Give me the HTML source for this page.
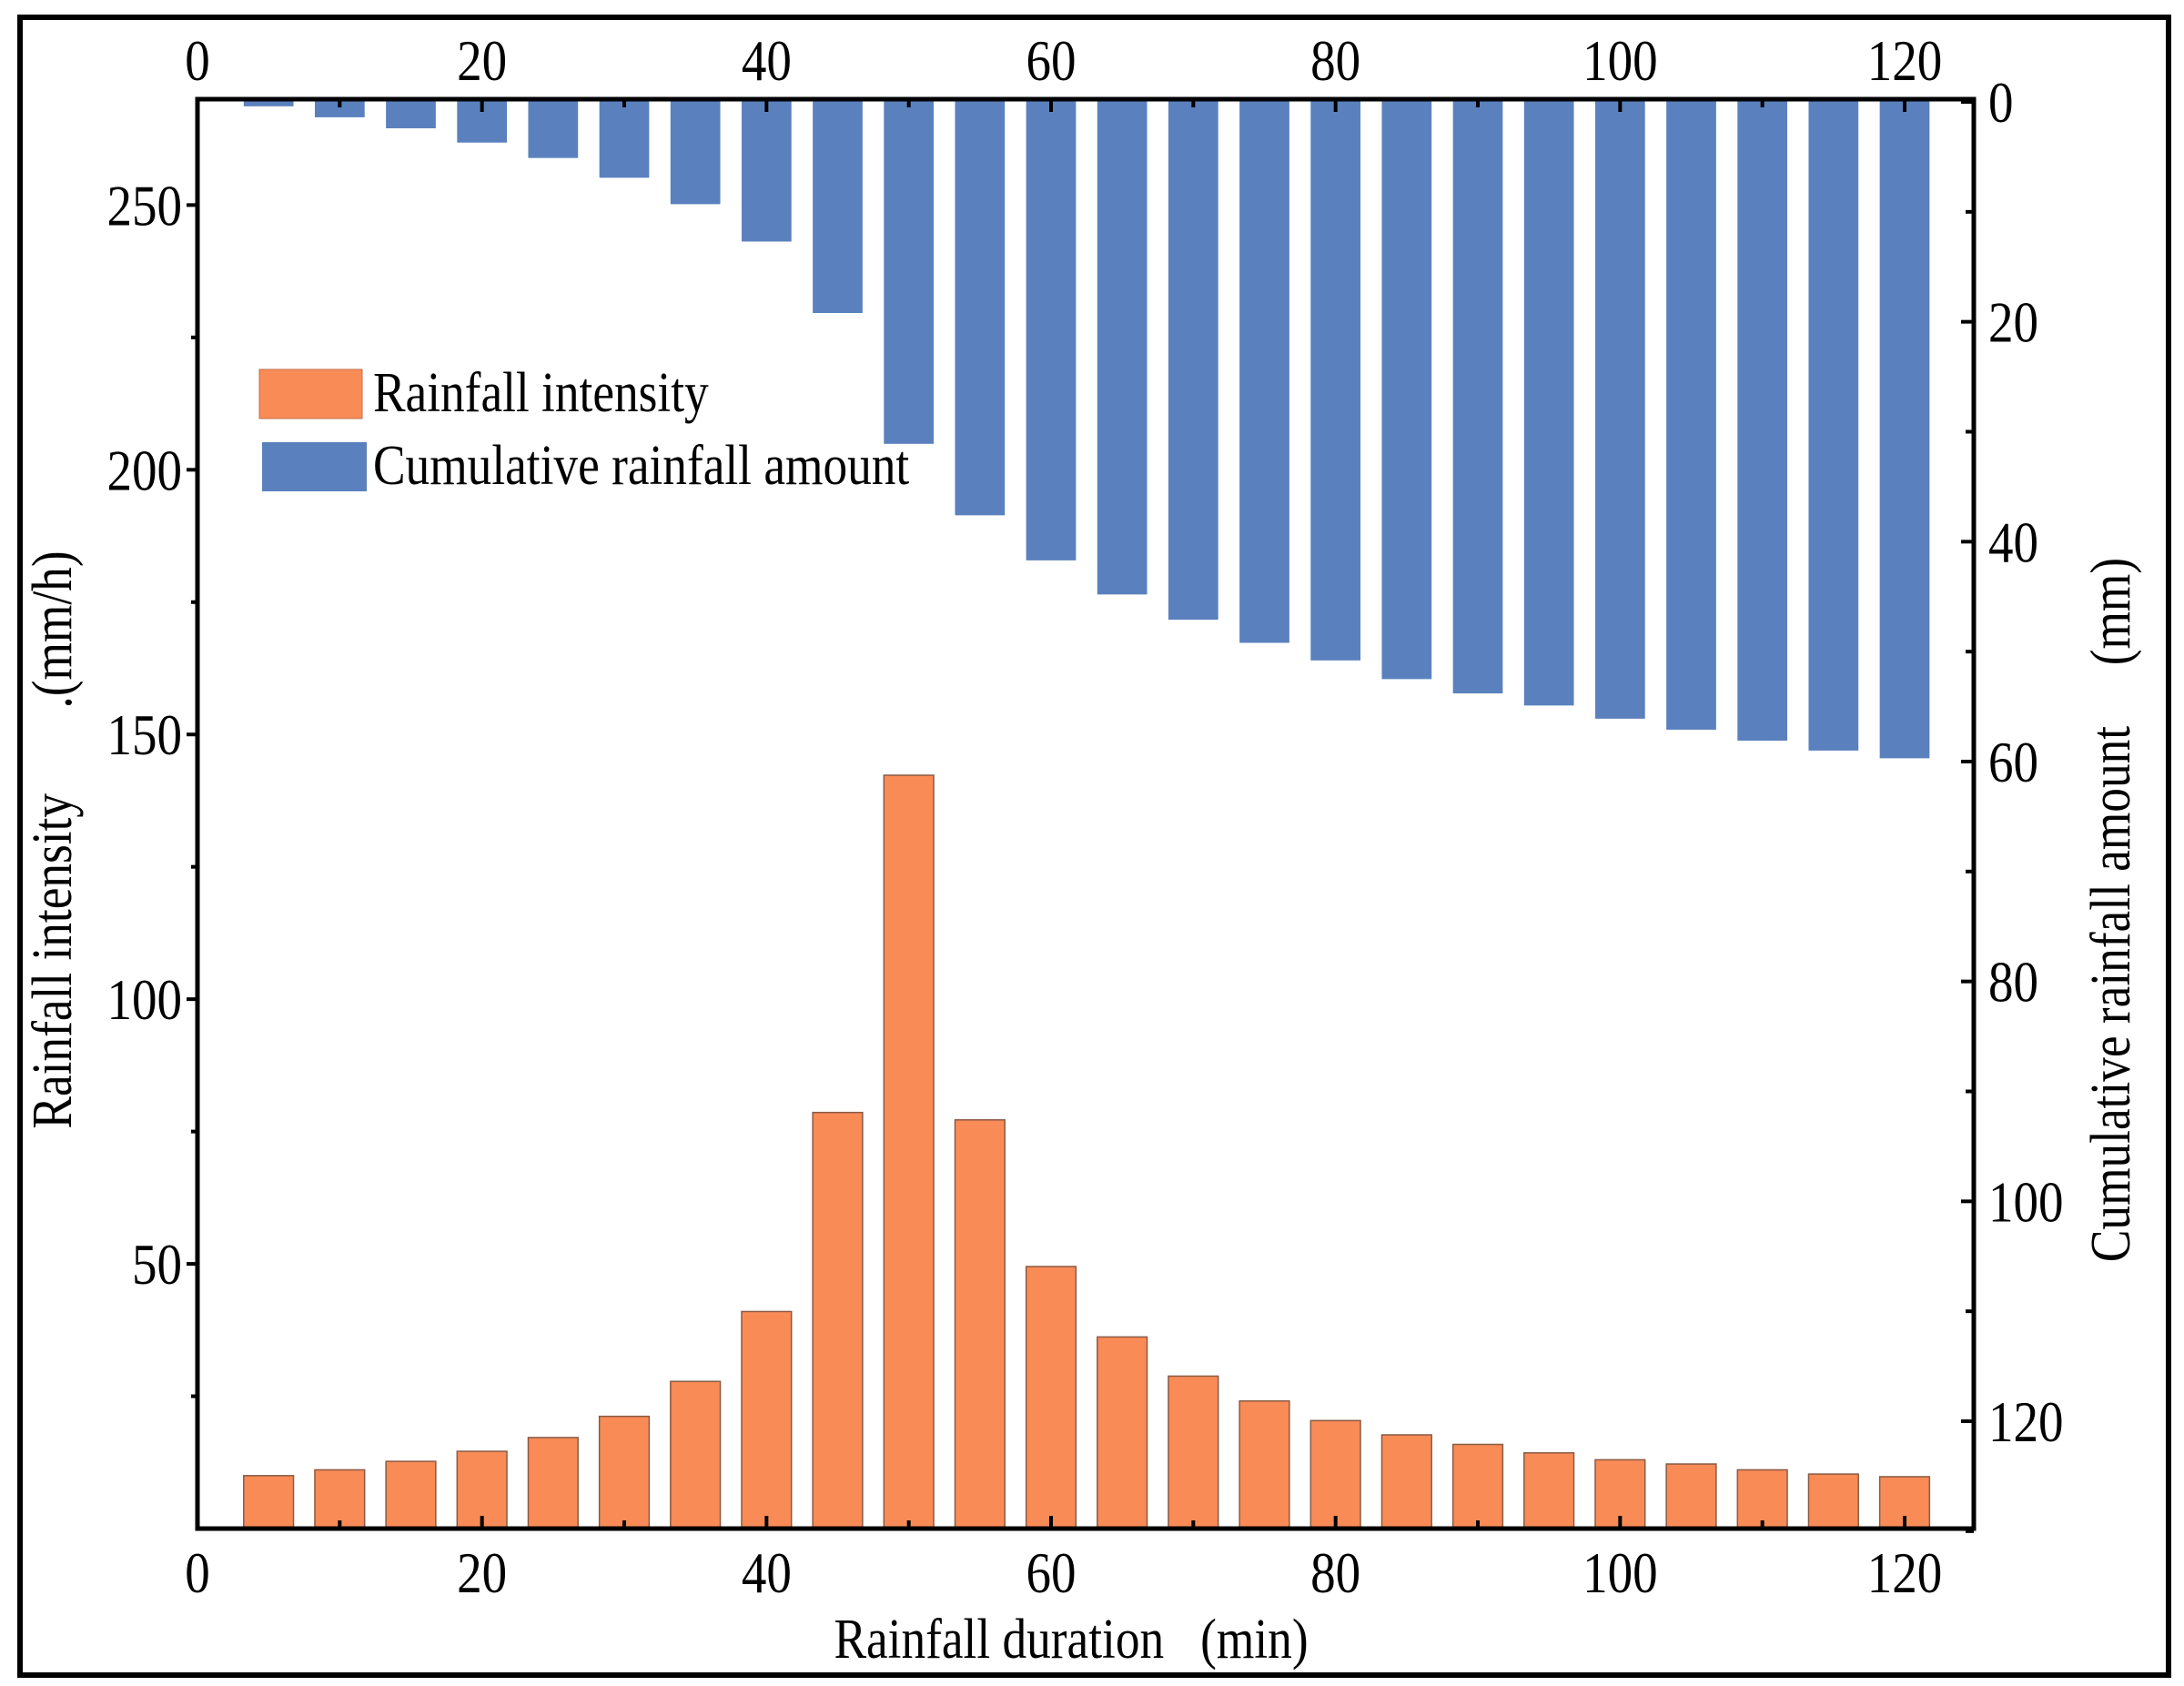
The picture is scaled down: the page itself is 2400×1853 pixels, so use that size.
<!DOCTYPE html>
<html><head><meta charset="utf-8"><style>
html,body{margin:0;padding:0;background:#fff;}
svg{display:block;font-family:"Liberation Serif",serif;}
text{white-space:pre;}
</style></head><body>
<svg id="chart" width="2400" height="1853" viewBox="0 0 2400 1853">
<rect x="22" y="19" width="2361" height="1822" fill="none" stroke="#000" stroke-width="6"/>
<g id="bars"></g>
<g id="axes"></g>
<g>
<rect x="285" y="406" width="113" height="54" fill="#F98B57" stroke="#c0704a" stroke-width="1"/>
<text transform="translate(410,452) scale(0.86,1)" font-size="62">Rainfall intensity</text>
<rect x="288" y="486" width="115" height="54" fill="#5A81BD"/>
<text transform="translate(410,532) scale(0.86,1)" font-size="62">Cumulative rainfall amount</text>
</g>
<text transform="translate(1177,1822) scale(0.86,1)" font-size="62" text-anchor="middle">Rainfall duration   (min)</text>
<text transform="translate(78,923) rotate(-90) scale(0.86,1)" font-size="62" text-anchor="middle">Rainfall intensity       .(mm/h)</text>
<text transform="translate(2340,1000) rotate(-90) scale(0.86,1)" font-size="62" text-anchor="middle">Cumulative rainfall amount     (mm)</text>
</svg>
<script>
const times=[5,10,15,20,25,30,35,40,45,50,55,60,65,70,75,80,85,90,95,100,105,110,115,120];
const intensity=[10,11.1,12.7,14.6,17.2,21.2,27.8,41,78.6,142.3,77.2,49.5,36.2,28.8,24.1,20.4,17.7,15.9,14.3,13,12.2,11.1,10.3,9.8];
const cumulative=[0.4,1.4,2.4,3.7,5.1,6.9,9.3,12.7,19.2,31.1,37.6,41.7,44.8,47.1,49.2,50.8,52.5,53.8,54.9,56.1,57.1,58.1,59,59.7];
const xTicks=[0,20,40,60,80,100,120];
const leftTicks=[50,100,150,200,250];
const rightTicks=[0,20,40,60,80,100,120];
const L=217,R=2169,T=109,B=1680;
const x=v=>L+v*(2093-L)/120;
const yL=v=>B-v*(B-T)/270;
const yR=v=>112+v*(1562-112)/120;
const NS="http://www.w3.org/2000/svg";
function mk(tag,attrs,parent,txt){const e=document.createElementNS(NS,tag);for(const k in attrs)e.setAttribute(k,attrs[k]);if(txt!==undefined)e.textContent=txt;parent.appendChild(e);return e;}
function lbl(px,py,anchor,txt){return mk('text',{transform:`translate(${px},${py}) scale(0.86,1)`,'font-size':64,'text-anchor':anchor},axes,txt);}
const bars=document.getElementById('bars'),axes=document.getElementById('axes');
const bw=x(3.5)-x(0);
times.forEach((t,i)=>{
 const b=mk('rect',{x:x(t)-bw/2,y:T,width:bw,height:yR(cumulative[i])-T,fill:'#5A81BD'},bars);
 
 
 const o=mk('rect',{x:x(t)-bw/2,y:yL(intensity[i]),width:bw,height:B-yL(intensity[i]),fill:'#F98B57',stroke:'#8a5a44','stroke-width':1.5},bars);
 
 
});
const f=mk('rect',{x:L,y:T,width:R-L,height:B-T,fill:'none',stroke:'#000','stroke-width':5},axes);


for(let v=0;v<=120;v+=10){const len=v%20===0?14:9;
 mk('line',{x1:x(v),x2:x(v),y1:B,y2:B-len,stroke:'#000','stroke-width':4},axes);
 mk('line',{x1:x(v),x2:x(v),y1:T,y2:T+len,stroke:'#000','stroke-width':4},axes);}
xTicks.forEach(v=>{
 const a=lbl(x(v),1750,'middle',v);
 
 
 const b=lbl(x(v),88,'middle',v);
 
 
});
for(let v=25;v<=250;v+=25){mk('line',{x1:L,x2:L-(v%50===0?12:7),y1:yL(v),y2:yL(v),stroke:'#000','stroke-width':4},axes);}
leftTicks.forEach(v=>{const a=lbl(200,yL(v)+22,'end',v);
 
 });
for(let v=0;v<=130;v+=10){mk('line',{x1:R,x2:R-(v%20===0?14:9),y1:yR(v),y2:yR(v),stroke:'#000','stroke-width':4},axes);}
rightTicks.forEach(v=>{const a=lbl(2185,yR(v)+22,'start',v);
 
 });
</script>
</body></html>
